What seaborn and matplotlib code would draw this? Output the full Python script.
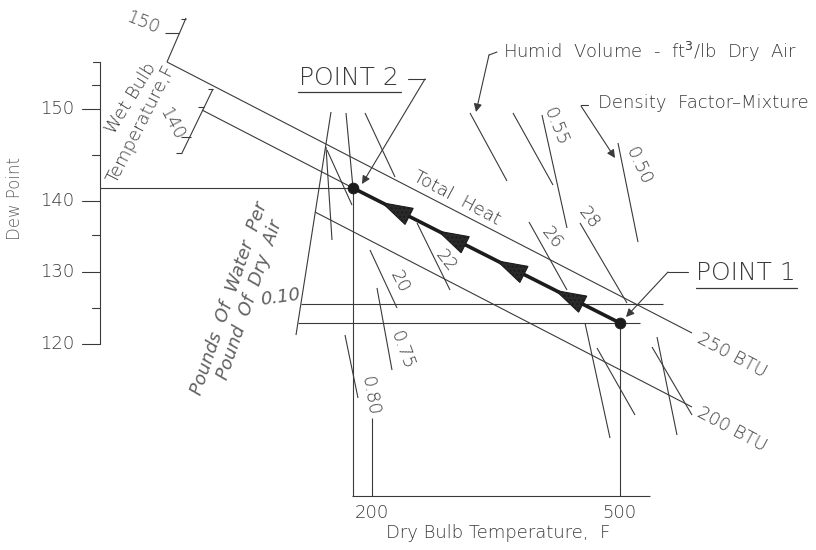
"""
Psychrometric process sketch: drying air path from POINT 1 to POINT 2
on a high-temperature humidity chart.
"""

import matplotlib
matplotlib.use("Agg")
import matplotlib.pyplot as plt
import numpy as np
import pandas as pd
import seaborn as sns
from matplotlib.patches import Polygon

# ── Style ─────────────────────────────────────────────────────────────────────
sns.set_theme(style="white")
plt.rcParams["font.family"] = ["DejaVu Sans"]
INK = "#1c1c1c"
PENCIL = "#3a3a3a"
FAINT = "#606060"
TXT = dict(color=PENCIL, fontweight="light")
FS = 13

# ── Data (chart drawing units, 816 x 550, y grows downwards) ─────────────────
point_names = ["POINT 2", "POINT 1"]
point_x = [353, 620]
point_y = [188, 323]
arrow_pos = [0.16, 0.37, 0.59, 0.81]          # share of path from POINT 2

# dew point scale
dew_ticks = [150, 140, 130, 120]
dew_tick_y = [109, 201, 272, 344]
dew_minor_y = [85, 155, 235, 308]

# dry bulb scale
dry_ticks = [200, 500]
dry_tick_x = [372, 619]

# total heat lines (x0, y0, x1, y1) and labels
heat_lines = [(167, 62, 692, 333), (315, 212, 692, 407)]
heat_labels = ["250 BTU", "200 BTU"]
wet_bulb_line = (202, 110, 353, 188)

# humidity lines
humidity_lines = [(100, 188, 353, 188), (301, 304, 663, 304), (298, 323, 640, 323)]

# frame
frame_lines = [(353, 188, 353, 496), (352, 496, 650, 496),
               (372, 418, 372, 496), (620, 323, 620, 496)]

# wet bulb scale segments and ticks
wb_scale = [(186, 18, 167, 62), (213, 89, 182, 153)]
wb_ticks = [(165, 33, 179, 33), (181, 19, 186, 19), (181, 137, 191, 137),
            (198, 107, 204, 107), (176, 153, 182, 153), (208, 89, 213, 89)]

# humid volume / density factor / misc short lines
short_lines = [
    (331, 112, 296, 335), (346, 113, 353, 188), (365, 113, 395, 177),
    (326, 147, 332, 240), (327, 150, 352, 205), (470, 113, 507, 181),
    (513, 113, 553, 185), (542, 115, 567, 228), (618, 143, 638, 242),
    (417, 223, 450, 290), (370, 250, 397, 308), (377, 288, 392, 370),
    (345, 335, 358, 398), (529, 222, 567, 290), (580, 223, 627, 303),
    (585, 323, 610, 438), (597, 348, 635, 415), (652, 347, 692, 415),
    (657, 337, 677, 435),
]

# line labels: text, x, y, rotation
line_labels = [
    ("0.55", 555, 127, -68), ("0.50", 638, 166, -65), ("26", 552, 238, -52),
    ("28", 589, 218, -52), ("22", 446, 261, -52), ("20", 399, 282, -63),
    ("0.75", 402, 350, -70), ("0.80", 370, 396, -80),
]

# ── Figure ────────────────────────────────────────────────────────────────────
fig = plt.figure(figsize=(8.16, 5.5), dpi=100)
ax = fig.add_axes([0, 0, 1, 1])


def seg(lines, **kw):
    for x0, y0, x1, y1 in lines:
        ax.plot([x0, x1], [y0, y1], solid_capstyle="butt", **kw)


thin = dict(color=PENCIL, lw=0.8)
seg(heat_lines, **thin)
seg([wet_bulb_line], **thin)
seg(humidity_lines, **thin)
seg(frame_lines, **thin)
seg(wb_scale, **thin)
seg(wb_ticks, **thin)
seg(short_lines, **thin)

# dew point axis
ax.plot([100, 100], [62, 344], color=PENCIL, lw=0.8)
ax.plot([93, 100], [62, 62], color=PENCIL, lw=0.8)
for v, y in zip(dew_ticks, dew_tick_y):
    ax.plot([82, 100], [y, y], color=PENCIL, lw=0.8)
    ax.text(57, y, str(v), ha="center", va="center", fontsize=FS, **TXT)
for y in dew_minor_y:
    ax.plot([92, 100], [y, y], color=PENCIL, lw=0.8)
ax.text(15, 199, "Dew Point", rotation=90, ha="center", va="center",
        fontsize=12, color=FAINT, fontweight="light")

# dry bulb axis
for v, x in zip(dry_ticks, dry_tick_x):
    ax.text(x, 513, str(v), ha="center", va="center", fontsize=FS, **TXT)
ax.text(498, 533, "Dry Bulb Temperature,  F", ha="center", va="center",
        fontsize=FS, **TXT)

# wet bulb scale labels
ax.text(143, 23, "150", rotation=-22, ha="center", va="center", fontsize=FS, **TXT)
ax.text(171, 124, "140", rotation=-62, ha="center", va="center", fontsize=FS, **TXT)
ax.text(131, 98, "Wet Bulb", rotation=58, ha="center", va="center", fontsize=FS, **TXT)
ax.text(141, 124, "Temperature,F", rotation=63, ha="center", va="center",
        fontsize=FS, **TXT)

# water content labels
ax.text(280, 297, "0.10", rotation=8, ha="center", va="center", fontsize=FS,
        style="italic", color=FAINT)
ax.text(229, 298, "Pounds  Of  Water  Per", rotation=71, ha="center",
        va="center", fontsize=FS, style="italic", color=FAINT)
ax.text(250, 300, "Pound  Of  Dry  Air", rotation=71, ha="center",
        va="center", fontsize=FS, style="italic", color=FAINT)

# line labels
for t, x, y, r in line_labels:
    ax.text(x, y, t, rotation=r, ha="center", va="center", fontsize=FS, **TXT)
ax.text(457, 198, "Total  Heat", rotation=-28, ha="center", va="center",
        fontsize=FS, **TXT)
for lab, (x0, y0, x1, y1) in zip(heat_labels, heat_lines):
    ax.text(x1 + 40, y1 + 22, lab, rotation=-28, ha="center", va="center",
            fontsize=FS, **TXT)

# process path POINT 2 -> POINT 1
path = pd.DataFrame({"x": point_x, "y": point_y, "name": point_names})
sns.lineplot(data=path, x="x", y="y", color=INK, lw=2.6, sort=False,
             legend=False, ax=ax)
sns.scatterplot(data=path, x="x", y="y", color=INK, s=60, edgecolor=INK,
                legend=False, ax=ax, zorder=5)

p2 = np.array([point_x[0], point_y[0]], float)
p1 = np.array([point_x[1], point_y[1]], float)
u = (p2 - p1) / np.linalg.norm(p2 - p1)
n = np.array([-u[1], u[0]])
for t in arrow_pos:
    c = p2 + (p1 - p2) * t
    tip = c + u * 15
    base = c - u * 15
    tri = [tip, base + n * 9, base - n * 9]
    ax.add_patch(Polygon(tri, closed=True, facecolor="#2a2a2a",
                         edgecolor=INK, lw=0.8, hatch="....", zorder=4))

# point callouts
ax.text(349, 78, "POINT 2", ha="center", va="center", fontsize=18, **TXT)
ax.plot([298, 401], [92, 92], color=PENCIL, lw=0.9)
ax.plot([408, 425], [79, 79], color=PENCIL, lw=0.8)
ax.annotate("", xy=(362, 184), xytext=(425, 79),
            arrowprops=dict(arrowstyle="-|>", color=PENCIL, lw=0.8,
                            mutation_scale=12, shrinkA=0, shrinkB=0))

ax.text(746, 273, "POINT 1", ha="center", va="center", fontsize=18, **TXT)
ax.plot([696, 797], [288, 288], color=PENCIL, lw=0.9)
ax.plot([688, 668], [272, 272], color=PENCIL, lw=0.8)
ax.annotate("", xy=(626, 317), xytext=(668, 272),
            arrowprops=dict(arrowstyle="-|>", color=PENCIL, lw=0.8,
                            mutation_scale=12, shrinkA=0, shrinkB=0))

# humid volume / density callouts
ax.text(503, 52, "Humid  Volume  -  ft$^3$/lb  Dry  Air", ha="left",
        va="center", fontsize=FS, **TXT)
ax.plot([497, 489], [52, 55], color=PENCIL, lw=0.8)
ax.annotate("", xy=(476, 112), xytext=(489, 55),
            arrowprops=dict(arrowstyle="-|>", color=PENCIL, lw=0.8,
                            mutation_scale=12, shrinkA=0, shrinkB=0))
ax.text(598, 103, "Density  Factor\u2013Mixture", ha="left", va="center",
        fontsize=FS, **TXT)
ax.plot([588, 581], [105, 105], color=PENCIL, lw=0.8)
ax.annotate("", xy=(615, 158), xytext=(581, 106),
            arrowprops=dict(arrowstyle="-|>", color=PENCIL, lw=0.8,
                            mutation_scale=12, shrinkA=0, shrinkB=0))

ax.set_xlim(0, 816)
ax.set_ylim(550, 0)
ax.axis("off")

fig.savefig("out.png", dpi=100, facecolor="white")
plt.close()
